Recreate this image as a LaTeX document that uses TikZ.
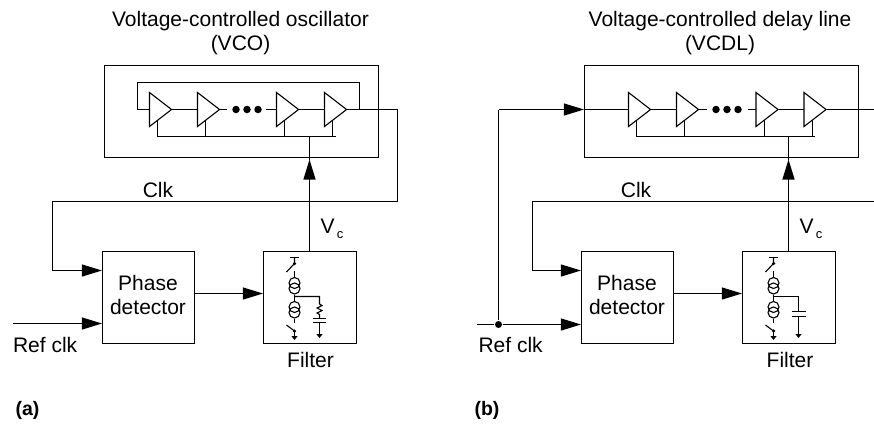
\documentclass[tikz,border=0pt]{standalone}
\usepackage{fontspec}
\setmainfont{Liberation Sans}
\usetikzlibrary{arrows.meta,calc}
\tikzset{
  x=1bp,y=-1bp,
  every path/.style={line width=1.1bp,line join=miter},
  lbl/.style={font=\fontsize{21bp}{24bp}\selectfont,inner sep=0pt,align=center},
  lab/.style={font=\fontsize{19.5bp}{24bp}\selectfont\bfseries,inner sep=0pt},
  box/.style={draw,rectangle,inner sep=0pt,minimum width=#1,minimum height=92bp},
  bufbox/.style={rectangle,inner sep=0pt,minimum width=21bp,minimum height=33bp},
  sig/.style={-{Triangle[length=20bp,width=12bp]}},
  gnd/.style={-{Triangle[length=4bp,width=6bp]}},
  dotn/.style={circle,fill=black,inner sep=0pt,minimum size=#1},
  cs/.style={draw,circle,inner sep=0pt,minimum size=11bp},
}
\newcommand{\vcsub}{V\raisebox{-5bp}{\fontsize{13bp}{13bp}\selectfont\,c}}
\newcommand{\buffer}[2]{%
  \node[bufbox] (#1) at (#2,109.5) {};
  \draw (#1.north west) -- (#1.east) -- (#1.south west) -- cycle;
  \coordinate (#1t) at ($(#1.south west)!0.38!(#1.east)$);
  \draw (#1t) -- (#1t |- railref);
}
\newcommand{\stack}[2]{%
  \begin{scope}[shift={(#1,0)}]
    \coordinate (#2-top) at (0,257.5);
    \coordinate (#2-dotA) at (0,263.5);
    \coordinate (#2-bladeA) at (-8,272);
    \coordinate (#2-dotB) at (0,331);
    \coordinate (#2-bladeB) at (-8,325);
    \coordinate (#2-n) at (0,296.5);
    \draw (-4.5,257.5) -- (4.5,257.5);
    \draw (#2-top) -- (#2-dotA) -- (#2-bladeA);
    \node[dotn=3.5bp] at (#2-dotA) {};
    \draw (0,271) -- (0,278);
    \node[cs] (#2-c1) at (0,283) {};
    \node[cs] (#2-c2) at (0,288.5) {};
    \draw (#2-c2.south) -- (0,302);
    \node[cs] (#2-c3) at (0,307) {};
    \node[cs] (#2-c4) at (0,312.5) {};
    \draw (#2-c4.south) -- (0,323);
    \draw (#2-bladeB) -- (#2-dotB);
    \node[dotn=3.5bp] at (#2-dotB) {};
    \draw[gnd] (#2-dotB) -- (0,340);
  \end{scope}
}
\begin{document}
\begin{tikzpicture}
\useasboundingbox (0,0) rectangle (874,425);
\coordinate (railref) at (0,136.5);
\coordinate (midref) at (0,293.5);
% ---- panel (a)
\node[lbl] (ta) at (240.5,33.5) {Voltage-controlled oscillator\\(VCO)};
\node[draw,rectangle,inner sep=0pt,minimum width=274bp,minimum height=92bp] (vco) at (241.5,111.5) {};
\buffer{a1}{160.5}\buffer{a2}{208.5}\buffer{a3}{287.5}\buffer{a4}{335.5}
\coordinate (afbl) at (137.5,109.5);
\coordinate (afbr) at (359.5,109.5);
\draw (a4.east) -- (afbr) -- (359.5,82.5) -- (137.5,82.5) -- (afbl) -- (a1.west);
\draw (a1.east) -- (a2.west);
\draw (a2.east) -- (227,109.5);
\draw (266,109.5) -- (a3.west);
\draw (a3.east) -- (a4.west);
\foreach \n/\x in {ad1/236,ad2/247,ad3/258} \node[dotn=7.5bp] (\n) at (\x,109.5) {};
\coordinate (arl) at (158,136.5);
\coordinate (arr) at (336,136.5);
\draw (arl) -- (arr);
\node[box=92bp] (pa) at (148.5,297.5) {};
\node[lbl] (pat) at (148,295) {Phase\\detector};
\node[box=93bp] (fa) at (310,297.5) {};
\node[lbl] (fal) at (310.5,360) {Filter};
\node[lbl] (clka) at (158,190) {Clk};
\node[lbl] (vca) at (332,229) {\vcsub};
\node[lbl,anchor=west] (refa) at (12.5,345) {Ref clk};
\node[lab,anchor=west] (la) at (15,410) {(a)};
\coordinate (ain) at (13,323.5);
\coordinate (ac1) at (397.5,109.5);
\coordinate (ac2) at (397.5,201.5);
\coordinate (ac3) at (52.5,201.5);
\coordinate (ac4) at (52.5,270.5);
\coordinate (amid) at (pa.east |- midref);
\coordinate (afil) at (309.5,251.5);
\coordinate (atip) at (309.5,159.5);
\draw (afbr) -- (ac1) -- (ac2) -- (ac3) -- (ac4);
\draw[sig] (ac4) -- (ac4 -| pa.west);
\draw[sig] (ain) -- (ain -| pa.west);
\draw[sig] (amid) -- (amid -| fa.west);
\draw[sig] (afil) -- (atip);
\draw (atip) -- (atip |- arr);
\stack{294.5}{sa}
\draw (sa-n) -- (319.5,296.5) -- (319.5,304) -- (322,305.5) -- (317,308) -- (322,310.5) -- (317,313) -- (319.5,314.5) -- (319.5,318.5);
\draw (313,318.5) -- (326,318.5);
\draw (313,322.5) -- (326,322.5);
\draw[gnd] (319.5,322.5) -- (319.5,338);
% ---- panel (b)
\node[lbl] (tb) at (720,33.5) {Voltage-controlled delay line\\(VCDL)};
\node[draw,rectangle,inner sep=0pt,minimum width=274bp,minimum height=92bp] (vcdl) at (721.5,111.5) {};
\buffer{b1}{639.5}\buffer{b2}{687.5}\buffer{b3}{767}\buffer{b4}{815}
\draw (b1.east) -- (b2.west);
\draw (b2.east) -- (707,109.5);
\draw (748,109.5) -- (b3.west);
\draw (b3.east) -- (b4.west);
\coordinate (bout) at (874,109.5);
\draw (b4.east) -- (bout);
\foreach \n/\x in {bd1/716,bd2/727,bd3/738} \node[dotn=7.5bp] (\n) at (\x,109.5) {};
\coordinate (brl) at (637,136.5);
\coordinate (brr) at (815,136.5);
\draw (brl) -- (brr);
\node[box=92bp] (pb) at (627.5,297.5) {};
\node[lbl] (pbt) at (627,295) {Phase\\detector};
\node[box=93bp] (fb) at (789,297.5) {};
\node[lbl] (fbl) at (790,360) {Filter};
\node[lbl] (clkb) at (636,190) {Clk};
\node[lbl] (vcb) at (811,229) {\vcsub};
\node[lbl,anchor=west] (refb) at (478,345) {Ref clk};
\node[lab,anchor=west] (lb) at (474,410) {(b)};
\coordinate (bin) at (477,324.5);
\node[dotn=7bp] (bj) at (498.5,324.5) {};
\coordinate (bup) at (498.5,109.5);
\coordinate (bc2) at (874,201.5);
\coordinate (bc3) at (532.5,201.5);
\coordinate (bc4) at (532.5,270.5);
\coordinate (bmid) at (pb.east |- midref);
\coordinate (bfil) at (788.5,251.5);
\coordinate (btip) at (788.5,159.5);
\draw (bin) -- (bj);
\draw[sig] (bj) -- (bj -| pb.west);
\draw (bj) -- (bup);
\draw[sig] (bup) -- (bup -| vcdl.west);
\draw (vcdl.west |- bup) -- (b1.west);
\draw (bc2) -- (bc3) -- (bc4);
\draw[sig] (bc4) -- (bc4 -| pb.west);
\draw[sig] (bmid) -- (bmid -| fb.west);
\draw[sig] (bfil) -- (btip);
\draw (btip) -- (btip |- brr);
\stack{773.5}{sb}
\draw (sb-n) -- (798.5,296.5) -- (798.5,311);
\draw (791.5,311.5) -- (805.5,311.5);
\draw (791.5,316.5) -- (805.5,316.5);
\draw[gnd] (798.5,316.5) -- (798.5,338);
\end{tikzpicture}
\end{document}
